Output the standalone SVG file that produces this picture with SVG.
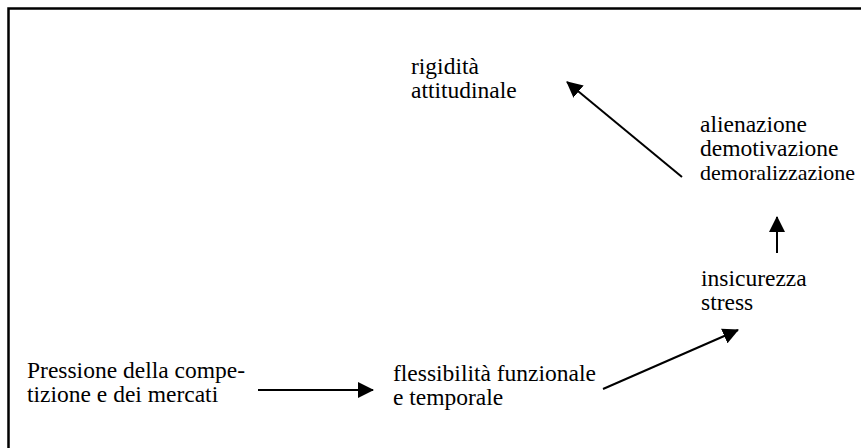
<svg xmlns="http://www.w3.org/2000/svg" width="861" height="448" viewBox="0 0 861 448">
<style>
.t{font-family:"Liberation Serif","Times New Roman",serif;font-size:23.5px;fill:#000}
.s{font-size:22px}
.c{stroke:#000;stroke-width:2;fill:none}
</style>
<defs>
<marker id="ah" markerUnits="userSpaceOnUse" markerWidth="16" markerHeight="16" viewBox="0 0 16 16" refX="15" refY="8" orient="auto">
<path d="M0,0 L16,8 L0,16 Z" fill="#000"/>
</marker>
</defs>
<rect x="8.5" y="8.5" width="900" height="500" fill="#fff" stroke="#000" stroke-width="2.5"/>
<g id="n-pressione"><text class="t" x="27" y="378">Pressione della compe-</text><text class="t" x="27" y="402">tizione e dei mercati</text></g>
<g id="n-flessibilita"><text class="t" x="393" y="381">flessibilità funzionale</text><text class="t" x="393" y="405">e temporale</text></g>
<g id="n-insicurezza"><text class="t" x="701" y="286">insicurezza</text><text class="t" x="701" y="310">stress</text></g>
<g id="n-alienazione"><text class="t" x="700" y="132">alienazione</text><text class="t" x="700" y="156">demotivazione</text><text class="t s" x="700" y="180">demoralizzazione</text></g>
<g id="n-rigidita"><text class="t" x="411" y="74">rigidità</text><text class="t" x="411" y="98">attitudinale</text></g>
<g id="connectors">
<line class="c" x1="258" y1="390" x2="373" y2="390" marker-end="url(#ah)"/>
<line class="c" x1="603" y1="389" x2="738" y2="330" marker-end="url(#ah)"/>
<line class="c" x1="777" y1="253" x2="777" y2="217" marker-end="url(#ah)"/>
<line class="c" x1="682" y1="177" x2="567" y2="82" marker-end="url(#ah)"/>
</g>
</svg>
